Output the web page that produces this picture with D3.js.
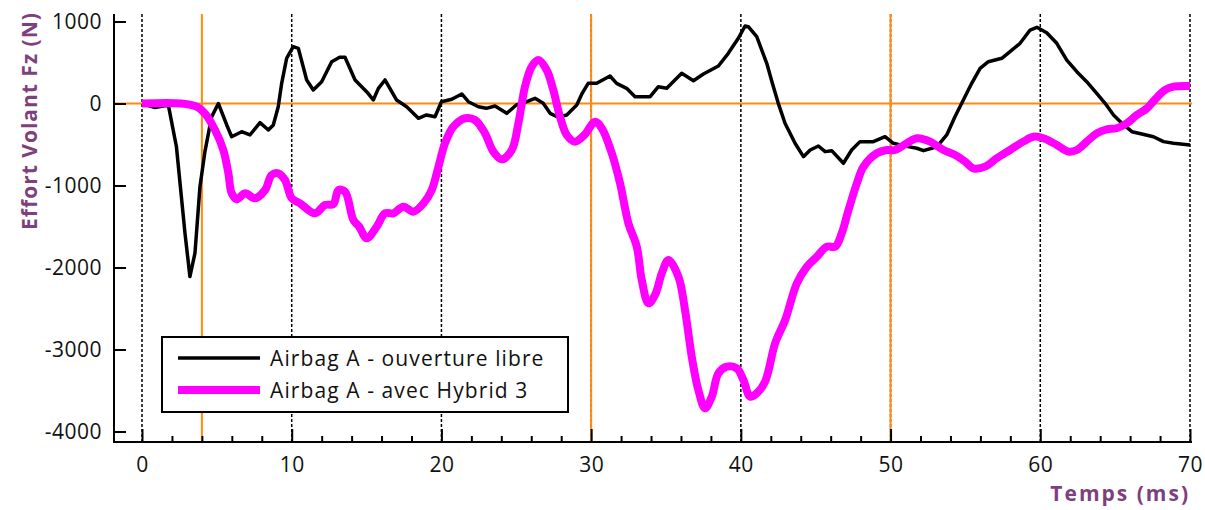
<!DOCTYPE html>
<html>
<head>
<meta charset="utf-8">
<script src="https://cdn.jsdelivr.net/npm/d3@7"></script>
<style>
  body { margin: 0; background: #fff; }
  svg { display: block; font-family: "Open Sans", "Noto Sans", sans-serif; }
</style>
</head>
<body>
<svg width="1205" height="510"></svg>
<script>
// Airbag A - ouverture libre (black)
const timeLibre = [0, 0.87, 1.76, 2.3, 2.87, 3.2, 3.54, 3.87, 4.2, 4.65, 5.1, 5.66, 5.99, 6.66, 7.21, 7.88, 8.44, 8.77, 9.1, 9.33, 9.66, 10.1, 10.44, 11.0, 11.44, 12.0, 12.67, 13.2, 13.56, 14.23, 14.56, 15.1, 15.45, 15.79, 16.23, 17.0, 17.68, 18.46, 19.0, 19.57, 20.0, 20.69, 21.36, 21.8, 22.47, 23.0, 23.58, 24.36, 25.0, 25.7, 26.25, 26.8, 27.26, 27.8, 28.37, 29.04, 29.4, 29.8, 30.37, 31.26, 31.7, 32.37, 32.93, 33.94, 34.49, 35.05, 36.05, 36.83, 37.5, 38.5, 39.16, 39.83, 40.28, 40.5, 41.06, 41.73, 42.1, 42.5, 42.95, 43.62, 44.18, 44.63, 45.18, 45.63, 46.07, 46.85, 47.4, 47.96, 48.85, 49.63, 50.19, 51.0, 51.75, 52.2, 53.1, 53.75, 54.3, 54.86, 55.42, 55.98, 56.53, 57.43, 57.98, 58.65, 59.32, 59.77, 60.43, 61.1, 61.77, 62.44, 63.1, 63.77, 64.33, 64.89, 65.45, 66.12, 66.78, 67.56, 68.23, 68.9, 70];
const forceLibre = [0, -50, -20, -527, -1580, -2110, -1823, -1017, -590, -163, 0, -262, -405, -344, -384, -234, -323, -262, -39, 246, 551, 693, 673, 287, 165, 266, 510, 563, 563, 287, 226, 124, 43, 185, 287, 43, -39, -180, -140, -161, 22, 51, 116, 22, -39, -59, -30, -120, -18, 22, 63, 2, -120, -168, -140, -18, 124, 246, 246, 335, 246, 185, 83, 83, 205, 185, 368, 278, 360, 457, 612, 795, 945, 937, 815, 490, 250, 2, -241, -485, -648, -567, -518, -587, -575, -729, -567, -465, -465, -405, -485, -520, -546, -575, -527, -384, -161, 43, 246, 429, 510, 551, 632, 734, 896, 929, 863, 734, 530, 388, 266, 124, 2, -140, -241, -344, -372, -405, -465, -485, -506];

// Airbag A - avec Hybrid 3 (magenta)
const timeHybrid = [0, 2.65, 3.65, 4.2, 4.88, 5.43, 5.77, 5.99, 6.33, 6.88, 7.55, 8.22, 8.66, 9.1, 9.55, 10.0, 10.55, 11.56, 12.22, 12.78, 13.12, 13.56, 14.12, 14.5, 15.01, 15.68, 16.23, 16.79, 17.46, 18.13, 18.8, 19.35, 19.8, 20.24, 20.8, 21.58, 22.24, 22.91, 23.47, 24.03, 24.7, 25.14, 25.58, 26.03, 26.47, 27.03, 27.47, 27.92, 28.37, 28.92, 29.55, 30.26, 30.71, 31.38, 31.93, 32.49, 33.05, 33.38, 33.83, 34.27, 34.72, 35.16, 35.83, 36.27, 36.72, 37.16, 37.61, 38.06, 38.5, 39.06, 39.73, 40.17, 40.62, 41.06, 41.62, 42.29, 42.96, 43.74, 44.41, 45.08, 45.74, 46.3, 46.74, 47.19, 47.75, 48.19, 49.08, 49.75, 50.3, 51.08, 51.75, 52.64, 53.53, 54.31, 54.98, 55.53, 56.31, 57.09, 57.98, 58.87, 59.54, 60.21, 61.1, 61.88, 62.44, 63.11, 63.77, 64.44, 65.1, 65.78, 66.45, 67.12, 67.67, 68.34, 68.9, 70];
const forceHybrid = [0, 0, -39, -120, -323, -567, -851, -1095, -1168, -1095, -1156, -1055, -872, -851, -933, -1156, -1217, -1339, -1238, -1226, -1055, -1075, -1421, -1500, -1644, -1502, -1339, -1339, -1258, -1319, -1217, -1055, -771, -485, -283, -180, -201, -364, -587, -681, -567, -241, 205, 449, 530, 408, 165, -161, -384, -465, -384, -222, -302, -607, -973, -1461, -1746, -2152, -2437, -2335, -2071, -1909, -2112, -2518, -3088, -3494, -3717, -3575, -3290, -3209, -3230, -3372, -3575, -3534, -3392, -2924, -2640, -2193, -1990, -1868, -1746, -1746, -1583, -1299, -973, -771, -607, -567, -567, -485, -424, -465, -567, -628, -709, -790, -770, -668, -567, -465, -405, -424, -506, -587, -567, -465, -364, -315, -302, -241, -140, -59, 51, 165, 205, 213];

const xTicks = [0, 10, 20, 30, 40, 50, 60, 70];
const xMinorTicks = d3.range(0, 71, 2).filter(d => d % 10 !== 0);
const yTicks = [1000, 0, -1000, -2000, -3000, -4000];
const markTimes = [4, 30, 50];
const legendLabels = ["Airbag A - ouverture libre", "Airbag A - avec Hybrid 3"];

const plot = { left: 114, right: 1192, top: 14, bottom: 442 };
const orange = "#ff8a0d";
const purple = "#7e3f7e";

const svg = d3.select("svg");

const x = d3.scaleLinear().domain([0, 70]).range([142, 1190]);
const y = d3.scaleLinear().domain([-4000, 1000]).range([431.5, 21.5]);

// dotted vertical grid every 10 ms
svg.append("g")
    .selectAll("line")
    .data(xTicks)
    .enter().append("line")
    .attr("x1", d => x(d)).attr("x2", d => x(d))
    .attr("y1", plot.top).attr("y2", plot.bottom)
    .attr("stroke", "#000")
    .attr("stroke-width", 1.5)
    .attr("stroke-dasharray", "3,2");

// orange reference lines
svg.append("line")
    .attr("x1", plot.left).attr("x2", plot.right)
    .attr("y1", y(0)).attr("y2", y(0))
    .attr("stroke", orange).attr("stroke-width", 2);

svg.append("g")
    .selectAll("line")
    .data(markTimes)
    .enter().append("line")
    .attr("x1", d => x(d)).attr("x2", d => x(d))
    .attr("y1", plot.top).attr("y2", plot.bottom)
    .attr("stroke", orange)
    .attr("stroke-width", 2);

// axes
const yAxis = svg.append("g")
    .attr("transform", `translate(${plot.left},0)`)
    .call(d3.axisLeft(y).tickValues(yTicks).tickFormat(d => String(d))
        .tickSizeInner(-12).tickSizeOuter(0).tickPadding(12));

const xAxis = svg.append("g")
    .attr("transform", `translate(0,${plot.bottom})`)
    .call(d3.axisBottom(x).tickValues(xTicks).tickFormat(d => String(d))
        .tickSizeInner(-13).tickSizeOuter(0).tickPadding(15));

const xMinor = svg.append("g")
    .attr("transform", `translate(0,${plot.bottom})`)
    .call(d3.axisBottom(x).tickValues(xMinorTicks).tickSizeInner(-6).tickSizeOuter(0).tickFormat(""));

[yAxis, xAxis, xMinor].forEach(g => {
    g.select(".domain").remove();
    g.selectAll("line").attr("stroke", "#000").attr("stroke-width", 2);
    g.selectAll("text")
        .style("font-family", "'Open Sans', sans-serif")
        .style("font-size", "21px")
        .style("letter-spacing", "0.5px")
        .attr("fill", "#111");
});

svg.append("line")
    .attr("x1", plot.left).attr("x2", plot.left)
    .attr("y1", plot.top).attr("y2", plot.bottom + 1)
    .attr("stroke", "#000").attr("stroke-width", 2);
svg.append("line")
    .attr("x1", plot.left - 1).attr("x2", plot.right)
    .attr("y1", plot.bottom).attr("y2", plot.bottom)
    .attr("stroke", "#000").attr("stroke-width", 2);

// series
const libre = timeLibre.map((t, i) => ({ t: t, v: forceLibre[i] }));
const hybrid = timeHybrid.map((t, i) => ({ t: t, v: forceHybrid[i] }));

svg.append("path")
    .datum(libre)
    .attr("fill", "none")
    .attr("stroke", "#000")
    .attr("stroke-width", 3.5)
    .attr("stroke-linejoin", "round")
    .attr("d", d3.line().x(d => x(d.t)).y(d => y(d.v)));

svg.append("path")
    .datum(hybrid)
    .attr("fill", "none")
    .attr("stroke", "#ff00ff")
    .attr("stroke-width", 8)
    .attr("stroke-linejoin", "round")
    .attr("d", d3.line().curve(d3.curveCatmullRom.alpha(0.5)).x(d => x(d.t)).y(d => y(d.v)));

// axis titles
svg.append("text")
    .attr("transform", `translate(37,121) rotate(-90)`)
    .attr("text-anchor", "middle")
    .attr("fill", purple)
    .style("font-size", "21px")
    .style("font-weight", "bold")
    .style("letter-spacing", "1px")
    .text("Effort Volant Fz (N)");

svg.append("text")
    .attr("x", 1190)
    .attr("y", 501)
    .attr("text-anchor", "end")
    .attr("fill", purple)
    .style("font-size", "21px")
    .style("font-weight", "bold")
    .style("letter-spacing", "2px")
    .text("Temps (ms)");

// legend
const legend = svg.append("g").attr("transform", "translate(162,337)");
legend.append("rect")
    .attr("width", 406).attr("height", 75)
    .attr("fill", "#fff")
    .attr("stroke", "#000").attr("stroke-width", 2);

const legendColors = ["#000", "#ff00ff"];
const legendWidths = [3.5, 8];
legendLabels.forEach((label, i) => {
    legend.append("line")
        .attr("x1", 16).attr("x2", 98)
        .attr("y1", 21 + i * 32).attr("y2", 21 + i * 32)
        .attr("stroke", legendColors[i])
        .attr("stroke-width", legendWidths[i]);
    legend.append("text")
        .attr("x", 108)
        .attr("y", 29 + i * 32)
        .attr("fill", "#111")
        .style("font-size", "21px")
        .style("letter-spacing", "1.1px")
        .text(label);
});
</script>
</body>
</html>
